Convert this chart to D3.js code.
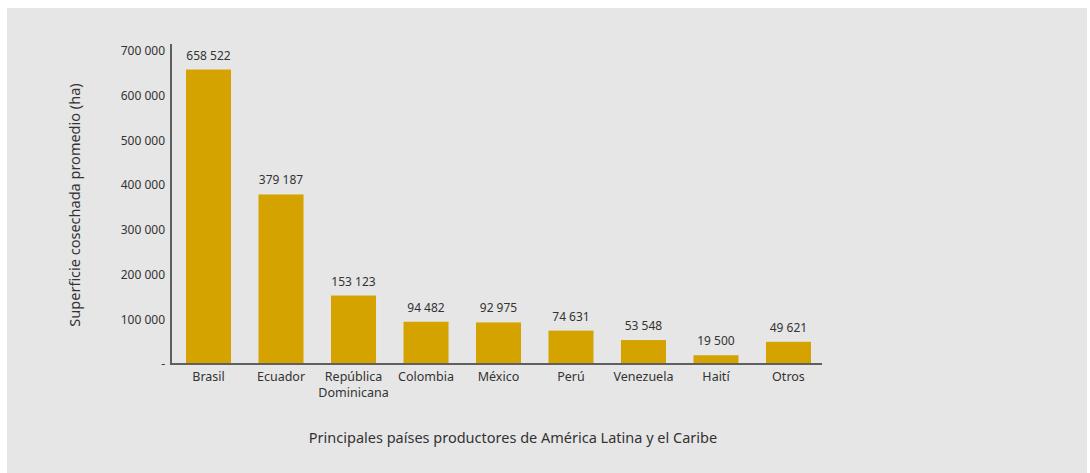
<!DOCTYPE html>
<html><head><meta charset="utf-8">
<script src="https://cdn.jsdelivr.net/npm/d3@7"></script>
<style>
html,body{margin:0;padding:0;background:#fff;}
svg{display:block;font-family:"Noto Sans","Open Sans",sans-serif;}
</style></head>
<body>
<svg id="chart" width="1090" height="473"></svg>
<script>
const categories = ["Brasil","Ecuador","República\nDominicana","Colombia","México","Perú","Venezuela","Haití","Otros"];
const values = [658522,379187,153123,94482,92975,74631,53548,19500,49621];
const yTicks = [0,100000,200000,300000,400000,500000,600000,700000];
const yTitle = "Superficie cosechada promedio (ha)";
const xTitle = "Principales países productores de América Latina y el Caribe";

const FONT = "Noto Sans, Open Sans, sans-serif";
const svg = d3.select("#chart");
svg.append("rect").attr("x",7).attr("y",8).attr("width",1080).attr("height",465).attr("fill","#e6e6e6");

const x0 = 171, x1 = 822, yBase = 364;
const x = d3.scaleBand().domain(categories).range([x0, 826]).paddingInner(0.379).paddingOuter(0.207);
const y = d3.scaleLinear().domain([0,700000]).range([yBase, 51]);
const fmt = v => v === 0 ? "-" : d3.format(",")(v).replace(/,/g," ");

// bars
svg.selectAll("rect.bar").data(values).enter().append("rect")
  .attr("class","bar")
  .attr("x",(d,i)=>x(categories[i]))
  .attr("width",x.bandwidth())
  .attr("y",d=>y(d))
  .attr("height",d=>yBase-y(d))
  .attr("fill","#d4a300");

// value labels
svg.selectAll("text.val").data(values).enter().append("text")
  .attr("x",(d,i)=>x(categories[i])+x.bandwidth()/2)
  .attr("y",d=>y(d)-10)
  .attr("text-anchor","middle")
  .attr("font-size",12).attr("fill","#333")
  .text(d=>fmt(d));

// y axis
const yAxis = d3.axisLeft(y).tickValues(yTicks).tickSize(0).tickPadding(6).tickFormat(fmt);
const gy = svg.append("g").attr("transform",`translate(${x0},0)`).call(yAxis);
gy.attr("font-family",FONT).attr("font-size",12);
gy.select(".domain").remove();
gy.selectAll("text").attr("fill","#333");
svg.append("line").attr("x1",x0).attr("x2",x0).attr("y1",44).attr("y2",yBase+1).attr("stroke","#5f5f5f").attr("stroke-width",2);

// x axis
const xAxis = d3.axisBottom(x).tickSize(0).tickPadding(6).tickFormat("");
const gx = svg.append("g").attr("transform",`translate(0,${yBase})`).call(xAxis);
gx.attr("font-family",FONT).attr("font-size",12.5);
gx.select(".domain").remove();
gx.selectAll(".tick").each(function(d){
  const lines = d.split("\n");
  lines.forEach((l,i)=>{
    d3.select(this).append("text").attr("text-anchor","middle").attr("fill","#333")
      .attr("x",0).attr("y",17 + i*15.5).text(l);
  });
});
svg.append("line").attr("x1",x0-1).attr("x2",x1).attr("y1",yBase).attr("y2",yBase).attr("stroke","#5f5f5f").attr("stroke-width",2);

// titles
svg.append("text").attr("transform","translate(80,205) rotate(-90)").attr("text-anchor","middle")
  .attr("font-size",14.5).attr("fill","#333").text(yTitle);
svg.append("text").attr("x",513).attr("y",443).attr("text-anchor","middle")
  .attr("font-size",14.5).attr("fill","#333").text(xTitle);
</script>
</body></html>
